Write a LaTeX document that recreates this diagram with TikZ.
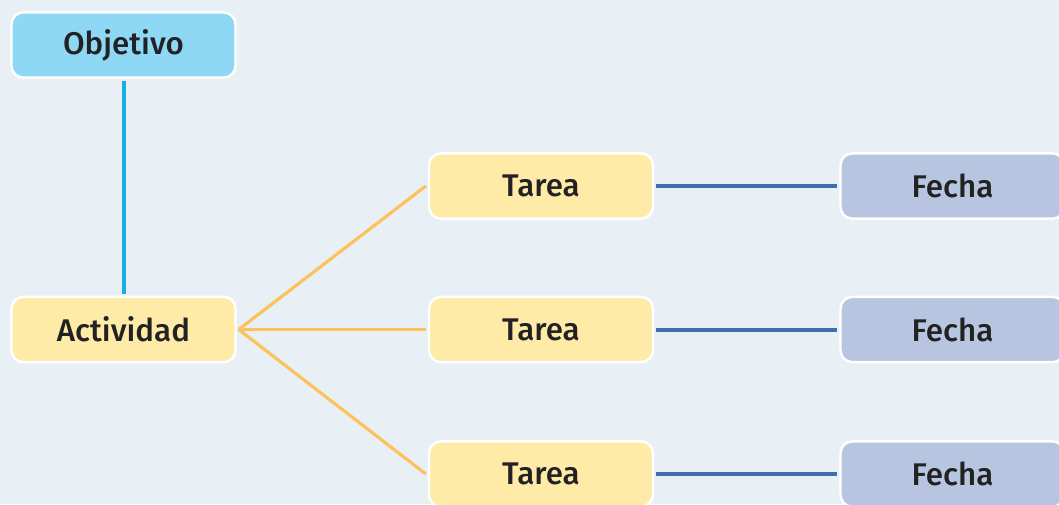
\documentclass[tikz,border=0pt]{standalone}
\usepackage{fontspec}
\setmainfont{Fira Sans}[BoldFont={Fira Sans Medium}]
\definecolor{bg}{HTML}{E9F0F5}
\definecolor{objfill}{HTML}{8ED8F6}
\definecolor{actfill}{HTML}{FFEBA8}
\definecolor{fecfill}{HTML}{B8C5E0}
\definecolor{objline}{HTML}{1BAEE3}
\definecolor{actline}{HTML}{FBC25E}
\definecolor{fecline}{HTML}{3E6FA8}
\definecolor{txt}{HTML}{222222}
\begin{document}
\begin{tikzpicture}[x=0.75pt,y=-0.75pt,
  box/.style={draw=white,line width=1.8pt,rounded corners=9pt,minimum width=168pt,minimum height=49pt,
    inner sep=0pt,text=txt,font=\fontsize{23.5}{26}\selectfont\bfseries},
  objbox/.style={box,fill=objfill},
  actbox/.style={box,fill=actfill},
  fecbox/.style={box,fill=fecfill},
  objcon/.style={objline,line width=3pt},
  actcon/.style={actline,line width=2.4pt},
  feccon/.style={fecline,line width=3pt}]
\useasboundingbox (0,0) rectangle (1059,504);
\clip (0,0) rectangle (1059,504);
\fill[bg] (0,0) rectangle (1059,504);
\node[objbox] (obj) at (123.5,45) {Objetivo};
\node[actbox] (act) at (123.5,329.5) {Actividad};
\node[actbox] (t1) at (541,186) {Tarea};
\node[actbox] (t2) at (541,329.5) {Tarea};
\node[actbox] (t3) at (541,474) {Tarea};
\node[fecbox] (f1) at (952.5,186) {Fecha};
\node[fecbox] (f2) at (952.5,329.5) {Fecha};
\node[fecbox] (f3) at (952.5,474) {Fecha};
\draw[objcon] ([yshift=-1.5pt]obj.south) -- ([yshift=1.5pt]act.north);
\draw[actcon] ([xshift=1.5pt]act.east) -- ([xshift=-1.5pt]t1.west);
\draw[actcon] ([xshift=1.5pt]act.east) -- ([xshift=-1.5pt]t2.west);
\draw[actcon] ([xshift=1.5pt]act.east) -- ([xshift=-1.5pt]t3.west);
\draw[feccon] ([xshift=1.5pt]t1.east) -- ([xshift=-1.5pt]f1.west);
\draw[feccon] ([xshift=1.5pt]t2.east) -- ([xshift=-1.5pt]f2.west);
\draw[feccon] ([xshift=1.5pt]t3.east) -- ([xshift=-1.5pt]f3.west);
\end{tikzpicture}
\end{document}
